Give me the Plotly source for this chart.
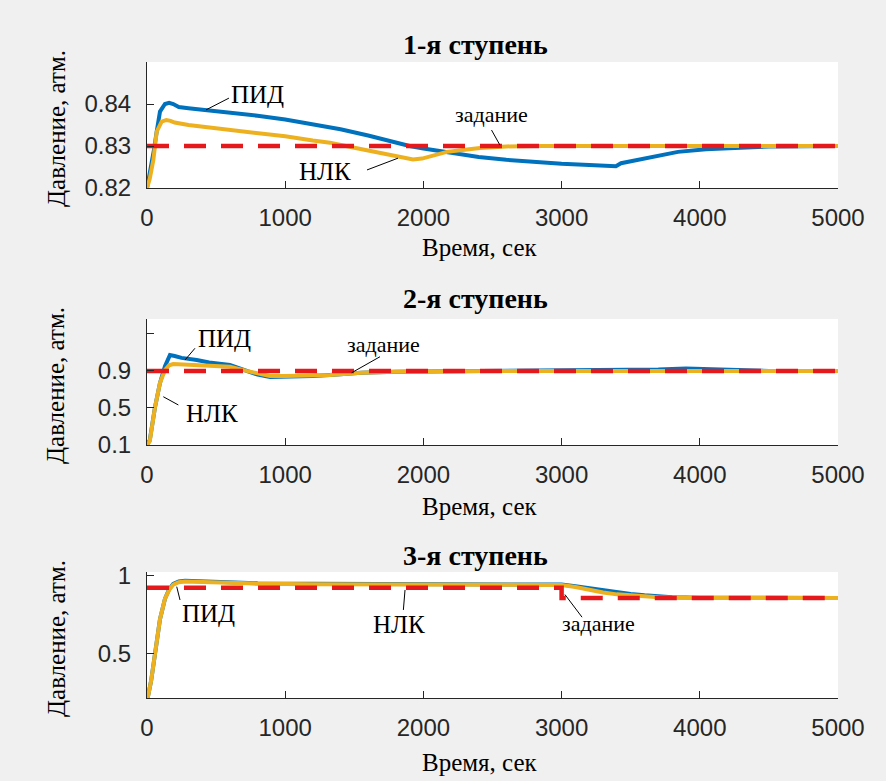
import plotly.graph_objects as go

# ---------------- data ----------------
# Stage 1
t1_pid = [0, 20, 50, 70, 94, 130, 160, 190, 230, 300, 427, 600, 800, 1000, 1200, 1400, 1600, 1800,
          1900, 2000, 2200, 2400, 2600, 2800, 3000, 3200, 3393, 3430, 3500, 3640, 3842, 4045, 4248, 4500, 5000]
y1_pid = [0.8200, 0.8232, 0.8290, 0.8334, 0.8382, 0.8400, 0.8403, 0.8400, 0.8393, 0.8390, 0.8386, 0.8380,
          0.8372, 0.8363, 0.8352, 0.8340, 0.8325, 0.8308, 0.8300, 0.8294, 0.8283, 0.8274, 0.8267, 0.8262,
          0.8258, 0.8255, 0.8252, 0.8259, 0.8264, 0.8274, 0.8286, 0.8292, 0.8296, 0.8299, 0.8300]
t1_nlk = [0, 20, 46, 70, 106, 140, 170, 200, 300, 400, 600, 800, 1000, 1200, 1324, 1500, 1686, 1800,
          1925, 1990, 2100, 2170, 2300, 2410, 2600, 2800, 5000]
y1_nlk = [0.8200, 0.8222, 0.8267, 0.8334, 0.8358, 0.8362, 0.8360, 0.8356, 0.8350, 0.8346, 0.8340, 0.8331,
          0.8323, 0.8313, 0.8308, 0.8296, 0.8283, 0.8276, 0.8268, 0.8270, 0.8279, 0.8286, 0.8291, 0.8295,
          0.8299, 0.8300, 0.8300]
t1_set = [0, 5000]
y1_set = [0.83, 0.83]

# Stage 2
t2_pid = [0, 20, 58, 94, 130, 166, 200, 250, 360, 450, 600, 721, 800, 890, 1000, 1200, 1324, 1550, 1800,
          2200, 3000, 3500, 3700, 3900, 4100, 4300, 4500, 5000]
y2_pid = [0.10, 0.15, 0.51, 0.77, 0.95, 1.07, 1.06, 1.04, 1.017, 0.99, 0.963, 0.90, 0.86, 0.835, 0.835,
          0.845, 0.855, 0.88, 0.89, 0.895, 0.90, 0.905, 0.915, 0.925, 0.92, 0.905, 0.90, 0.90]
t2_nlk = [0, 20, 58, 94, 130, 160, 190, 250, 360, 450, 600, 721, 800, 890, 1000, 1200, 1324, 1550, 1800,
          2200, 3000, 5000]
y2_nlk = [0.10, 0.14, 0.51, 0.77, 0.91, 0.96, 0.974, 0.97, 0.963, 0.955, 0.945, 0.90, 0.87, 0.845, 0.845,
          0.85, 0.855, 0.88, 0.89, 0.895, 0.90, 0.90]
t2_set = [0, 5000]
y2_set = [0.9, 0.9]

# Stage 3
t3_pid = [0, 7, 30, 58, 94, 130, 160, 190, 230, 275, 350, 500, 800, 1200, 2000, 2900, 3000, 3100, 3200,
          3300, 3400, 3500, 3600, 3700, 3800, 4000, 5000]
y3_pid = [0.22, 0.23, 0.33, 0.505, 0.72, 0.85, 0.91, 0.945, 0.96, 0.965, 0.963, 0.955, 0.948, 0.945,
          0.943, 0.943, 0.94, 0.93, 0.916, 0.902, 0.89, 0.88, 0.872, 0.865, 0.86, 0.857, 0.855]
t3_nlk = [0, 7, 30, 58, 94, 130, 160, 190, 230, 275, 350, 500, 800, 1200, 2000, 2900, 3000, 3100, 3200,
          3300, 3400, 3500, 3600, 3700, 3800, 4000, 5000]
y3_nlk = [0.22, 0.23, 0.33, 0.505, 0.72, 0.85, 0.905, 0.94, 0.955, 0.96, 0.958, 0.952, 0.946, 0.943,
          0.942, 0.942, 0.938, 0.925, 0.907, 0.89, 0.878, 0.87, 0.864, 0.86, 0.857, 0.855, 0.855]
t3_set = [0, 3000, 3000, 5000]
y3_set = [0.92, 0.92, 0.855, 0.855]

x_ticks = [0, 1000, 2000, 3000, 4000, 5000]
y1_ticks = [0.82, 0.83, 0.84]
y1_labels = ["0.82", "0.83", "0.84"]
y2_ticks = [0.1, 0.5, 0.9, 1.3]
y2_labels = ["0.1", "0.5", "0.9", ""]
y3_ticks = [0.5, 1.0]
y3_labels = ["0.5", "1"]

titles = ["1-я ступень", "2-я ступень", "3-я ступень"]
xlabel = "Время, сек"
ylabel = "Давление, атм."
pid_name, nlk_name, set_name = "ПИД", "НЛК", "задание"

# ---------------- layout geometry ----------------
W, H = 886, 781
XL, XR = 147, 838
boxes = [(62, 188), (319, 445), (572, 698)]
yranges = [[0.82, 0.85], [0.1, 1.46], [0.22, 1.02]]

BLUE, YELLOW, RED = "#0072BD", "#EDB120", "#E5191C"
AX = "#262626"
SERIF = "Liberation Serif"
SANS = "Liberation Sans"

def px(x):
    return x / W

def py(y):
    return 1 - y / H

fig = go.Figure()
series = [
    (t1_pid, y1_pid, t1_nlk, y1_nlk, t1_set, y1_set),
    (t2_pid, y2_pid, t2_nlk, y2_nlk, t2_set, y2_set),
    (t3_pid, y3_pid, t3_nlk, y3_nlk, t3_set, y3_set),
]
for i, (tp, yp, tn, yn, ts, ys) in enumerate(series):
    xa = "x" if i == 0 else f"x{i+1}"
    ya = "y" if i == 0 else f"y{i+1}"
    fig.add_trace(go.Scatter(x=tp, y=yp, mode="lines", line=dict(color=BLUE, width=4), xaxis=xa, yaxis=ya,
                             name=pid_name, showlegend=False, hoverinfo="skip"))
    fig.add_trace(go.Scatter(x=tn, y=yn, mode="lines", line=dict(color=YELLOW, width=4), xaxis=xa, yaxis=ya,
                             name=nlk_name, showlegend=False, hoverinfo="skip"))
    fig.add_trace(go.Scatter(x=ts, y=ys, mode="lines", line=dict(color=RED, width=4.5, dash="22px,15px"),
                             xaxis=xa, yaxis=ya, name=set_name, showlegend=False, hoverinfo="skip"))

ytick_sets = [(y1_ticks, y1_labels), (y2_ticks, y2_labels), (y3_ticks, y3_labels)]
layout = {}
for i, (top, bot) in enumerate(boxes):
    sfx = "" if i == 0 else str(i + 1)
    layout["xaxis" + sfx] = dict(
        domain=[px(XL), px(XR)], anchor="y" + sfx, range=[0, 5000], tickvals=x_ticks,
        ticks="inside", ticklen=7, tickcolor=AX, showline=True, linecolor=AX, linewidth=1,
        showgrid=False, zeroline=False, tickfont=dict(family=SANS, size=24, color=AX),
        ticklabelstandoff=8, automargin=False, fixedrange=True,
    )
    layout["yaxis" + sfx] = dict(
        domain=[py(bot), py(top)], anchor="x" + sfx, range=yranges[i],
        tickvals=ytick_sets[i][0], ticktext=ytick_sets[i][1],
        ticks="inside", ticklen=7, tickcolor=AX, showline=True, linecolor=AX, linewidth=1,
        showgrid=False, zeroline=False, tickfont=dict(family=SANS, size=24, color=AX),
        ticklabelstandoff=10, automargin=False, fixedrange=True,
    )

annotations = []
title_y = [45, 298, 555]
xlabel_y = [248, 506, 762]
for i, (top, bot) in enumerate(boxes):
    annotations.append(dict(text=f"<b>{titles[i]}</b>", x=px(475), y=py(title_y[i]), xref="paper", yref="paper",
                            showarrow=False, font=dict(family=SERIF, size=28, color="#000"),
                            xanchor="center", yanchor="middle"))
    annotations.append(dict(text=xlabel, x=px(480), y=py(xlabel_y[i]), xref="paper", yref="paper",
                            showarrow=False, font=dict(family=SERIF, size=25, color="#000"),
                            xanchor="center", yanchor="middle"))
    annotations.append(dict(text=ylabel, x=px(56), y=py((top + bot) / 2 + 4), xref="paper", yref="paper",
                            showarrow=False, textangle=-90, font=dict(family=SERIF, size=25, color="#000"),
                            xanchor="center", yanchor="middle"))

# in-plot labels: (axis index, text, x, y, size)
labels = [
    (1, pid_name, 800, 0.8422, 25), (1, nlk_name, 1290, 0.8240, 25), (1, set_name, 2493, 0.8376, 22),
    (2, pid_name, 564, 1.25, 25), (2, nlk_name, 468, 0.44, 25), (2, set_name, 1712, 1.19, 22),
    (3, pid_name, 446, 0.757, 25), (3, nlk_name, 1825, 0.685, 25), (3, set_name, 3270, 0.69, 22),
]
for ax, txt, x, y, s in labels:
    sfx = "" if ax == 1 else str(ax)
    annotations.append(dict(text=txt, x=x, y=y, xref="x" + sfx, yref="y" + sfx, showarrow=False,
                            font=dict(family=SERIF, size=s, color="#000"), xanchor="center", yanchor="middle"))

# leader lines
leaders = [
    (1, 427, 0.8386, 593, 0.8414), (1, 1592, 0.8243, 1816, 0.8271), (1, 2493, 0.8338, 2554, 0.8302),
    (2, 275, 1.017, 347, 1.144), (2, 118, 0.621, 227, 0.532), (2, 1686, 1.053, 1481, 0.88),
    (3, 239, 0.842, 215, 0.927), (3, 1855, 0.779, 1867, 0.906), (3, 3024, 0.877, 3148, 0.733),
]
shapes = []
for ax, x0, y0, x1, y1 in leaders:
    sfx = "" if ax == 1 else str(ax)
    shapes.append(dict(type="line", xref="x" + sfx, yref="y" + sfx, x0=x0, y0=y0, x1=x1, y1=y1,
                       line=dict(color="#000", width=1)))

fig.update_layout(
    template="none",
    width=W, height=H, margin=dict(l=0, r=0, t=0, b=0, pad=0), autosize=False,
    paper_bgcolor="#F0F0F0", plot_bgcolor="#FFFFFF",
    annotations=annotations, shapes=shapes, showlegend=False, hovermode=False, **layout,
)
fig.write_html("out.html", config={"displayModeBar": False, "responsive": False},
               post_script="document.body.style.margin='0';document.body.style.overflow='hidden';")
